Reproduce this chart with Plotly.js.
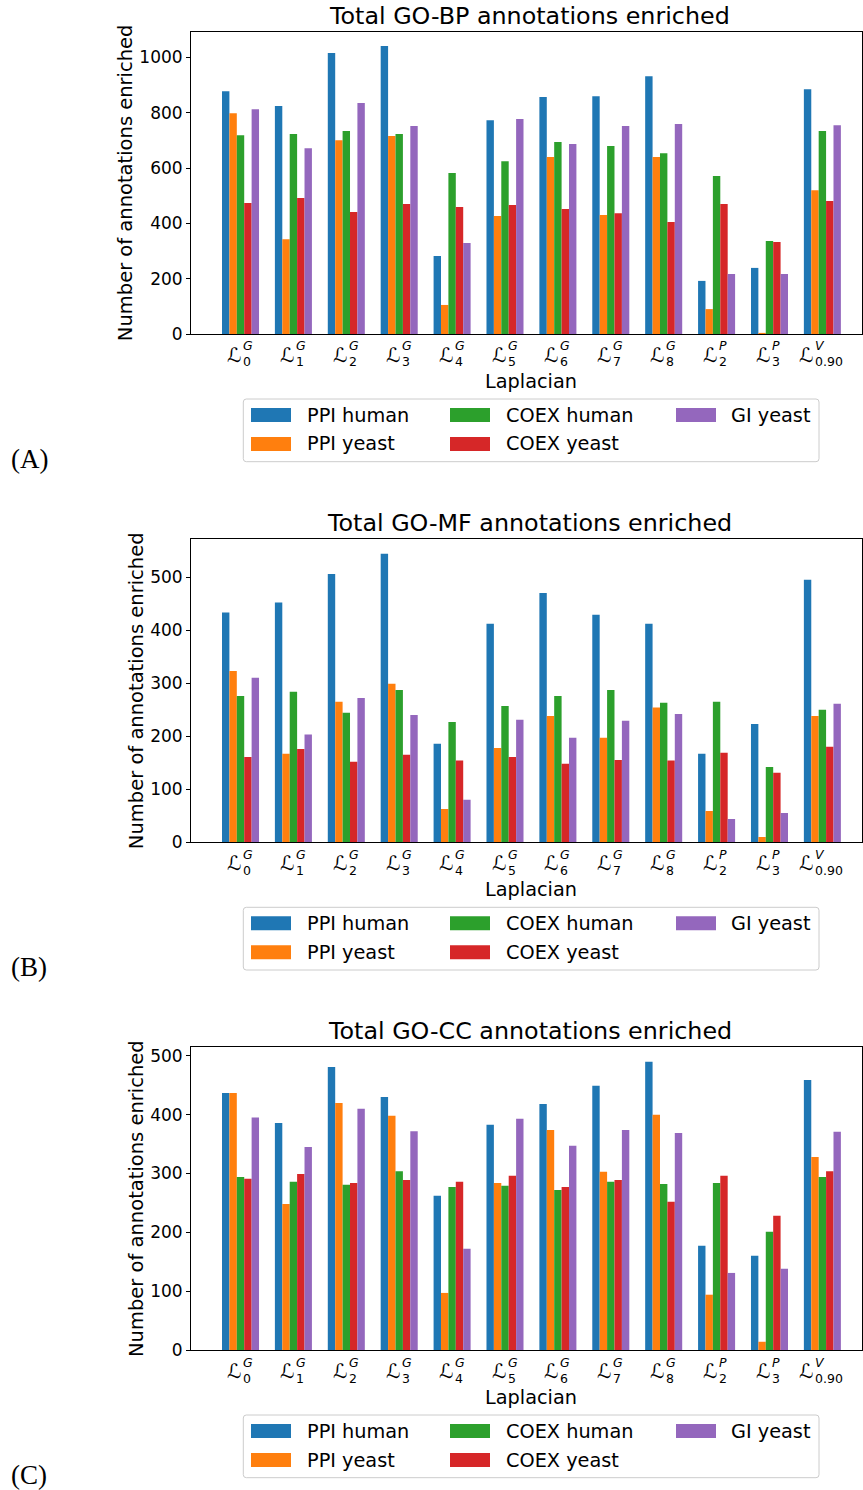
<!DOCTYPE html>
<html>
<head>
<meta charset="utf-8">
<script src="https://cdn.plot.ly/plotly-3.0.1.min.js"></script>
<style>
  html, body { margin: 0; padding: 0; background: #fff; }
  #chart { width: 863px; height: 1490px; }
</style>
</head>
<body>
<div id="chart"></div>
<script>
// Laplacian variants (x categories): calligraphic L with superscript and subscript
const lapSup = ['G', 'G', 'G', 'G', 'G', 'G', 'G', 'G', 'G', 'P', 'P', 'V'];
const lapSub = ['0', '1', '2', '3', '4', '5', '6', '7', '8', '2', '3', '0.90'];

const seriesNames = ['PPI human', 'PPI yeast', 'COEX human', 'COEX yeast', 'GI yeast'];
const seriesColors = ['#1f77b4', '#ff7f0e', '#2ca02c', '#d62728', '#9467bd'];

// GO-BP
const bpPpiHuman  = [878, 824, 1016, 1041, 282, 773, 857, 860, 932, 192, 239, 885];
const bpPpiYeast  = [798, 343, 701, 716, 105, 427, 640, 430, 640, 90, 4, 520];
const bpCoexHuman = [719, 723, 734, 723, 582, 625, 694, 680, 654, 571, 336, 734];
const bpCoexYeast = [474, 492, 441, 470, 459, 466, 452, 437, 405, 470, 333, 481];
const bpGiYeast   = [813, 672, 835, 752, 329, 777, 687, 752, 759, 217, 217, 755];

// GO-MF
const mfPpiHuman  = [433, 452, 506, 544, 186, 412, 470, 429, 412, 167, 223, 495];
const mfPpiYeast  = [323, 167, 265, 299, 63, 178, 238, 197, 254, 59, 10, 238];
const mfCoexHuman = [276, 284, 244, 287, 227, 257, 276, 287, 263, 265, 142, 250];
const mfCoexYeast = [161, 176, 152, 165, 154, 161, 148, 155, 154, 169, 131, 180];
const mfGiYeast   = [310, 203, 272, 240, 80, 231, 197, 229, 242, 44, 55, 261];

// GO-CC
const ccPpiHuman  = [437, 386, 481, 430, 262, 383, 418, 449, 490, 177, 160, 459];
const ccPpiYeast  = [437, 248, 420, 398, 97, 284, 374, 303, 400, 94, 14, 328];
const ccCoexHuman = [294, 286, 281, 304, 277, 279, 272, 286, 282, 284, 201, 294];
const ccCoexYeast = [291, 299, 284, 289, 286, 296, 277, 289, 252, 296, 228, 304];
const ccGiYeast   = [395, 345, 410, 372, 172, 393, 347, 374, 369, 131, 138, 371];

const panelTitles = ['Total GO-BP annotations enriched', 'Total GO-MF annotations enriched', 'Total GO-CC annotations enriched'];
const panelLabels = ['(A)', '(B)', '(C)'];
const yTickStep = [200, 100, 100];

const panelData = [
  [bpPpiHuman, bpPpiYeast, bpCoexHuman, bpCoexYeast, bpGiYeast],
  [mfPpiHuman, mfPpiYeast, mfCoexHuman, mfCoexYeast, mfGiYeast],
  [ccPpiHuman, ccPpiYeast, ccCoexHuman, ccCoexYeast, ccGiYeast]
];

// ---- layout geometry (pixels) ----
const W = 863, H = 1490;
const axLeft = 191, axRight = 862;
const panelBox = [
  { top: 31.7, bottom: 334 },
  { top: 539.3, bottom: 842.3 },
  { top: 1047.3, bottom: 1350 }
];
const px = x => x / W;
const py = y => 1 - y / H;

const FONT = 'DejaVu Sans, sans-serif';
const traces = [];
const annotations = [];
const shapes = [];
const layout = {
  width: W, height: H,
  margin: { l: 0, r: 0, t: 0, b: 0 },
  paper_bgcolor: '#ffffff',
  plot_bgcolor: '#ffffff',
  barmode: 'group',
  bargap: 0.3,
  bargroupgap: 0,
  showlegend: false,
  font: { family: FONT, color: '#000' }
};

const xIdx = lapSub.map((_, i) => i);

panelData.forEach((series, p) => {
  const n = p === 0 ? '' : String(p + 1);
  const xa = 'x' + n, ya = 'y' + n;
  const box = panelBox[p];
  const ymax = Math.max(...series.flat()) * 1.05;

  series.forEach((vals, s) => {
    traces.push({
      type: 'bar',
      name: seriesNames[s],
      x: xIdx,
      y: vals,
      xaxis: xa, yaxis: ya,
      marker: { color: seriesColors[s], line: { width: 0 } },
      hoverinfo: 'skip'
    });
  });

  layout['xaxis' + n] = {
    domain: [px(axLeft), px(axRight)],
    anchor: ya,
    range: [-0.936, 11.749],
    showticklabels: false,
    ticks: '',
    showgrid: false,
    zeroline: false,
    showline: true, mirror: true, linecolor: '#000', linewidth: 1
  };
  layout['yaxis' + n] = {
    domain: [py(box.bottom), py(box.top)],
    anchor: xa,
    range: [0, ymax],
    dtick: yTickStep[p], tick0: 0,
    ticks: 'outside', ticklen: 4, tickwidth: 1, tickcolor: '#000',
    tickfont: { family: FONT, size: 17, color: '#000' },
    showgrid: false,
    zeroline: false,
    showline: true, mirror: true, linecolor: '#000', linewidth: 1,
    automargin: false,
    title: { text: 'Number of annotations enriched', font: { family: FONT, size: 19.5, color: '#000' }, standoff: 1 }
  };

  // panel title
  annotations.push({
    xref: 'paper', yref: 'paper',
    x: px((axLeft + axRight) / 2 + 3), y: py(box.top - 16),
    xanchor: 'center', yanchor: 'middle',
    text: panelTitles[p], showarrow: false,
    font: { family: FONT, size: 23.8, color: '#000' }
  });

  // x tick labels: L followed by stacked superscript / subscript
  lapSub.forEach((sub, k) => {
    const sideW = sub.length > 1 ? 32 : 12;
    const total = 15 + sideW;
    annotations.push({
      xref: xa, yref: 'paper', x: k, y: py(box.bottom + 21),
      xanchor: 'left', yanchor: 'middle', xshift: -total / 2 - 1,
      text: 'ℒ', showarrow: false, borderpad: 0,
      font: { family: FONT, size: 20, color: '#000' }
    });
    annotations.push({
      xref: xa, yref: 'paper', x: k, y: py(box.bottom + 20),
      xanchor: 'left', yanchor: 'middle', xshift: -total / 2 + 15, align: 'left',
      text: '<i>' + lapSup[k] + '</i><br>' + sub, showarrow: false, borderpad: 0,
      font: { family: FONT, size: 12.5, color: '#000' }
    });
  });

  // x axis title
  annotations.push({
    xref: 'paper', yref: 'paper',
    x: px((axLeft + axRight) / 2 + 4), y: py(box.bottom + 47.5),
    xanchor: 'center', yanchor: 'middle', borderpad: 0,
    text: 'Laplacian', showarrow: false,
    font: { family: FONT, size: 19.3, color: '#000' }
  });

  // legend frame (rounded)
  const lx0 = 243.3, lx1 = 819, ly0 = box.bottom + 65, ly1 = box.bottom + 127.7, r = 3;
  const P = (x, y) => px(x) + ',' + py(y);
  shapes.push({
    type: 'path', xref: 'paper', yref: 'paper',
    path: 'M' + P(lx0 + r, ly0) + ' L' + P(lx1 - r, ly0) + ' Q' + P(lx1, ly0) + ' ' + P(lx1, ly0 + r) +
          ' L' + P(lx1, ly1 - r) + ' Q' + P(lx1, ly1) + ' ' + P(lx1 - r, ly1) +
          ' L' + P(lx0 + r, ly1) + ' Q' + P(lx0, ly1) + ' ' + P(lx0, ly1 - r) +
          ' L' + P(lx0, ly0 + r) + ' Q' + P(lx0, ly0) + ' ' + P(lx0 + r, ly0) + ' Z',
    line: { color: '#cccccc', width: 1 },
    fillcolor: 'rgba(255,255,255,0.8)'
  });
  // legend entries, filled column by column
  const colPatchX = [251, 450, 676];
  const colTextX = [307, 505.7, 730.8];
  const rowY = [box.bottom + 81, box.bottom + 110];
  seriesNames.forEach((name, s) => {
    const c = Math.floor(s / 2), rr = s % 2;
    shapes.push({
      type: 'rect', xref: 'paper', yref: 'paper',
      x0: px(colPatchX[c]), x1: px(colPatchX[c] + 40),
      y0: py(rowY[rr] - 7), y1: py(rowY[rr] + 7),
      fillcolor: seriesColors[s], line: { width: 0 }
    });
    annotations.push({
      xref: 'paper', yref: 'paper',
      x: px(colTextX[c] - 2), y: py(rowY[rr]),
      xanchor: 'left', yanchor: 'middle',
      text: name, showarrow: false,
      font: { family: FONT, size: 19.3, color: '#000' }
    });
  });

  // panel letter
  annotations.push({
    xref: 'paper', yref: 'paper',
    x: px(10), y: py(box.bottom + 124.5),
    xanchor: 'left', yanchor: 'middle', borderpad: 0,
    text: panelLabels[p], showarrow: false,
    font: { family: 'Liberation Serif, serif', size: 27, color: '#000' }
  });
});

layout.annotations = annotations;
layout.shapes = shapes;

Plotly.newPlot('chart', traces, layout, { staticPlot: true, displayModeBar: false });
</script>
</body>
</html>
